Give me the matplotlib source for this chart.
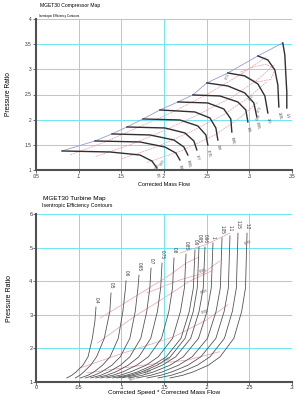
import matplotlib.pyplot as plt

plt.rcParams['font.family'] = ['Liberation Sans', 'DejaVu Sans']

# ==========================
# Compressor map data
# ==========================
comp_speeds = ["0.5", "0.6", "0.65", "0.7", "0.75", "0.8", "0.85", "0.9",
               "0.95", "1.0", "1.05", "1.1"]
comp_flow = [
    [.0805, .1367, .1718, .1858, .1917],
    [.1191, .1718, .2011, .2139, .2186],
    [.1390, .1835, .2116, .2233, .2280],
    [.1566, .2011, .2245, .2350, .2385],
    [.1753, .2186, .2397, .2491, .2514],
    [.1952, .2362, .2538, .2608, .2631],
    [.2163, .2514, .2701, .2783, .2795],
    [.2338, .2655, .2865, .2959, .2983],
    [.2502, .2748, .2947, .3053, .3088],
    [.2748, .2947, .3100, .3182, .3217],
    [.3100, .3217, .3299, .3334, .3346],
    [.3392, .3416, .3428, .3439, .3439],
]
comp_pr = [
    [1.378, 1.358, 1.298, 1.179, 1.040],
    [1.577, 1.557, 1.457, 1.338, 1.199],
    [1.716, 1.696, 1.596, 1.457, 1.298],
    [1.855, 1.835, 1.736, 1.577, 1.398],
    [2.014, 1.994, 1.875, 1.696, 1.497],
    [2.193, 2.153, 2.034, 1.835, 1.596],
    [2.352, 2.332, 2.213, 2.014, 1.755],
    [2.491, 2.471, 2.352, 2.193, 1.954],
    [2.730, 2.670, 2.531, 2.332, 2.054],
    [2.928, 2.869, 2.710, 2.471, 2.133],
    [3.266, 3.187, 2.988, 2.690, 2.252],
    [3.525, 3.286, 2.889, 2.551, 2.233],
]

comp_eff_x = [
    [.09, .13, .17, .21, .25, .29, .32],
    [.12, .16, .20, .24, .28, .31, .33],
    [.15, .19, .23, .27, .30, .32],
    [.18, .22, .26, .29, .31],
    [.29, .305, .32, .33, .325, .31, .295, .29],
]
comp_eff_y = [
    [1.30, 1.55, 1.85, 2.15, 2.50, 2.90, 3.25],
    [1.27, 1.50, 1.78, 2.10, 2.45, 2.80, 3.10],
    [1.22, 1.45, 1.75, 2.10, 2.45, 2.75],
    [1.15, 1.38, 1.70, 2.05, 2.35],
    [2.95, 3.05, 3.10, 3.00, 2.80, 2.75, 2.85, 2.95],
]
comp_eff_lab = ["0.74", "0.72", "0.70", "0.68", "0.60", "0.55"]
comp_eff_lx = [.275, .303, .312, .311, .199, .193]
comp_eff_ly = [2.85, 2.43, 2.19, 2.05, 1.14, 1.06]

# ==========================
# Turbine map data
# ==========================
turb_speeds = ["0.4", "0.5", "0.6", "0.65", "0.7", "0.75", "0.8", "0.85",
               "0.9", "0.95", "0.96", "1", "1.05", "1.1", "1.15", "1.2"]
turb_flow = [
    [.036, .042, .047, .055, .061, .066, .069, .0703],
    [.046, .0515, .056, .064, .071, .080, .0865, .0879],
    [.052, .0608, .068, .078, .0868, .0964, .1018, .1049, .1055],
    [.058, .0683, .0768, .089, .0988, .110, .1163, .1195, .1207],
    [.064, .0757, .0852, .099, .110, .1228, .1298, .1334, .1348],
    [.070, .0828, .0933, .108, .1205, .1345, .1423, .1461, .1477],
    [.076, .0901, .1017, .118, .1317, .1471, .1557, .1600, .1617],
    [.083, .0983, .1108, .129, .1433, .160, .1693, .1739, .1758],
    [.090, .1059, .1189, .137, .1526, .1699, .1796, .1844, .1863],
    [.095, .1108, .1238, .142, .1574, .1747, .1843, .1890, .1910],
    [.100, .1162, .1294, .148, .1637, .1813, .1911, .1960, .1980],
    [.108, .1244, .1378, .157, .1726, .1905, .2004, .2054, .2074],
    [.118, .1345, .148, .167, .183, .201, .211, .216, .218],
    [.130, .1461, .1592, .178, .1932, .2108, .2205, .2254, .2273],
    [.143, .1585, .1711, .189, .2039, .2208, .2301, .2348, .2367],
    [.157, .1719, .1841, .202, .2157, .2319, .2410, .2455, .2473],
]
turb_pr = [
    [1.12, 1.2, 1.3, 1.5, 1.75, 2.3, 2.8, 3.23],
    [1.12, 1.2, 1.3, 1.5, 1.75, 2.3, 3.1, 3.65],
    [1.12, 1.2, 1.3, 1.5, 1.75, 2.3, 3.1, 3.8, 4.01],
    [1.12, 1.2, 1.3, 1.5, 1.75, 2.3, 3.1, 3.8, 4.18],
    [1.12, 1.2, 1.3, 1.5, 1.75, 2.3, 3.1, 3.8, 4.39],
    [1.12, 1.2, 1.3, 1.5, 1.75, 2.3, 3.1, 3.8, 4.54],
    [1.12, 1.2, 1.3, 1.5, 1.75, 2.3, 3.1, 3.8, 4.69],
    [1.12, 1.2, 1.3, 1.5, 1.75, 2.3, 3.1, 3.8, 4.81],
    [1.12, 1.2, 1.3, 1.5, 1.75, 2.3, 3.1, 3.8, 4.93],
    [1.12, 1.2, 1.3, 1.5, 1.75, 2.3, 3.1, 3.8, 5.02],
    [1.12, 1.2, 1.3, 1.5, 1.75, 2.3, 3.1, 3.8, 5.02],
    [1.12, 1.2, 1.3, 1.5, 1.75, 2.3, 3.1, 3.8, 5.14],
    [1.12, 1.2, 1.3, 1.5, 1.75, 2.3, 3.1, 3.8, 5.29],
    [1.12, 1.2, 1.3, 1.5, 1.75, 2.3, 3.1, 3.8, 5.35],
    [1.12, 1.2, 1.3, 1.5, 1.75, 2.3, 3.1, 3.8, 5.43],
    [1.12, 1.2, 1.3, 1.5, 1.75, 2.3, 3.1, 3.8, 5.43],
]

turb_eff_x = [
    [.075, .107, .153, .176, .191],
    [.052, .102, .161, .200, .225],
    [.060, .125, .177, .215],
    [.072, .114, .150, .180, .205],
    [.130, .169, .196, .215],
    [.169, .200, .227],
]
turb_eff_y = [
    [2.9, 3.4, 4.12, 4.54, 4.72],
    [1.42, 1.86, 2.34, 2.85, 3.3],
    [1.27, 1.5, 1.65, 1.9],
    [2.16, 2.93, 3.5, 4.0, 4.3],
    [3.65, 4.04, 4.24, 4.6],
    [4.84, 5.1, 5.43],
]
turb_eff_lab = ["0.50", "0.30", "0.05", "0.78", "0.96", "0.98", "0.98"]
turb_eff_lx = [.1535, .131, .1137, .249, .196, .197, .198]
turb_eff_ly = [1.65, 1.30, 1.09, 5.15, 4.3, 3.7, 3.1]

# ==========================
# Style
# ==========================
grid_c = "#6fe4f0"
spine_c = "#505050"
line_c = "#303030"
eff_c = "#eaa0aa"
surge_c = "#9a9ad8"


def style_axes(ax):
    ax.grid(color=grid_c, lw=0.7)
    ax.set_axisbelow(True)
    for s in ["top", "right"]:
        ax.spines[s].set_visible(False)
    for s in ["left", "bottom"]:
        ax.spines[s].set_color(spine_c)
        ax.spines[s].set_linewidth(1.5)
    ax.tick_params(length=2, width=0.5, labelsize=3.5, pad=1, colors="#333333")


fig = plt.figure(figsize=(2.96, 3.96), dpi=100)

# ==========================
# Compressor
# ==========================
ax1 = fig.add_axes([36/296, 1-170/396, 256/296, 151/396])
style_axes(ax1)
ax1.set_xlim(.05, .35)
ax1.set_ylim(1, 4)
ax1.set_xticks([.05, .1, .15, .2, .25, .3, .35])
ax1.set_xticklabels([".05", ".1", ".15", ".2", ".25", ".3", ".35"])
ax1.set_yticks([1, 1.5, 2, 2.5, 3, 3.5, 4])
ax1.set_yticklabels(["1", "1.5", "2", "2.5", "3", "3.5", "4"])

for xs, ys in zip(comp_eff_x, comp_eff_y):
    ax1.plot(xs, ys, color=eff_c, lw=0.5, ls=(0, (3, 1)))

surge_x = [f[0] for f in comp_flow]
surge_y = [p[0] for p in comp_pr]
ax1.plot(surge_x, surge_y, color=surge_c, lw=0.6)

for xs, ys, lab in zip(comp_flow, comp_pr, comp_speeds):
    ax1.plot(xs, ys, color=line_c, lw=1.0)
    ax1.annotate(lab, (xs[-1], ys[-1]), xytext=(0.5, -3), textcoords="offset points",
                 fontsize=2.8, rotation=-80, ha="center", va="top", color="#333333")

for lab, lx, ly in zip(comp_eff_lab, comp_eff_lx, comp_eff_ly):
    ax1.text(lx, ly, lab, fontsize=2.4, rotation=60, color="#666666",
             ha="center", va="center")

ax1.set_xlabel("Corrected Mass Flow", fontsize=4, labelpad=2)
ax1.set_ylabel("Pressure Ratio", fontsize=4.8, labelpad=9)
fig.text(40/296, 1-6/396, "MGET30 Compressor Map", fontsize=3.6, va="center")
fig.text(39/296, 1-16/396, "Isentropic Efficiency Contours", fontsize=2.2, va="center")

# ==========================
# Turbine
# ==========================
ax2 = fig.add_axes([36/296, 1-382/396, 256/296, 168/396])
style_axes(ax2)
ax2.set_xlim(0, .3)
ax2.set_ylim(1, 6)
ax2.set_xticks([0, .05, .1, .15, .2, .25, .3])
ax2.set_xticklabels(["0", ".05", ".1", ".15", ".2", ".25", ".3"])
ax2.set_yticks([1, 2, 3, 4, 5, 6])
ax2.tick_params(labelsize=4, pad=0.5)

for xs, ys in zip(turb_eff_x, turb_eff_y):
    ax2.plot(xs, ys, color=eff_c, lw=0.5)

for xs, ys, lab in zip(turb_flow, turb_pr, turb_speeds):
    ax2.plot(xs, ys, color="#555555", lw=0.6)
    ax2.annotate(lab, (xs[-1], ys[-1]), xytext=(0, 3), textcoords="offset points",
                 fontsize=3.3, rotation=-90, ha="center", va="bottom", color="#333333")

for lab, lx, ly in zip(turb_eff_lab, turb_eff_lx, turb_eff_ly):
    ax2.text(lx, ly, lab, fontsize=2.8, rotation=20, color="#555555",
             ha="center", va="center")

ax2.set_xlabel("Corrected Speed * Corrected Mass Flow", fontsize=4.5, labelpad=-0.5)
ax2.set_ylabel("Pressure Ratio", fontsize=5, labelpad=12)
fig.text(43/296, 1-199/396, "MGET30 Turbine Map", fontsize=4.6, va="center")
fig.text(42/296, 1-206/396, "Isentropic Efficiency Contours", fontsize=3.8, va="center")

fig.savefig("out.png", dpi=100)
